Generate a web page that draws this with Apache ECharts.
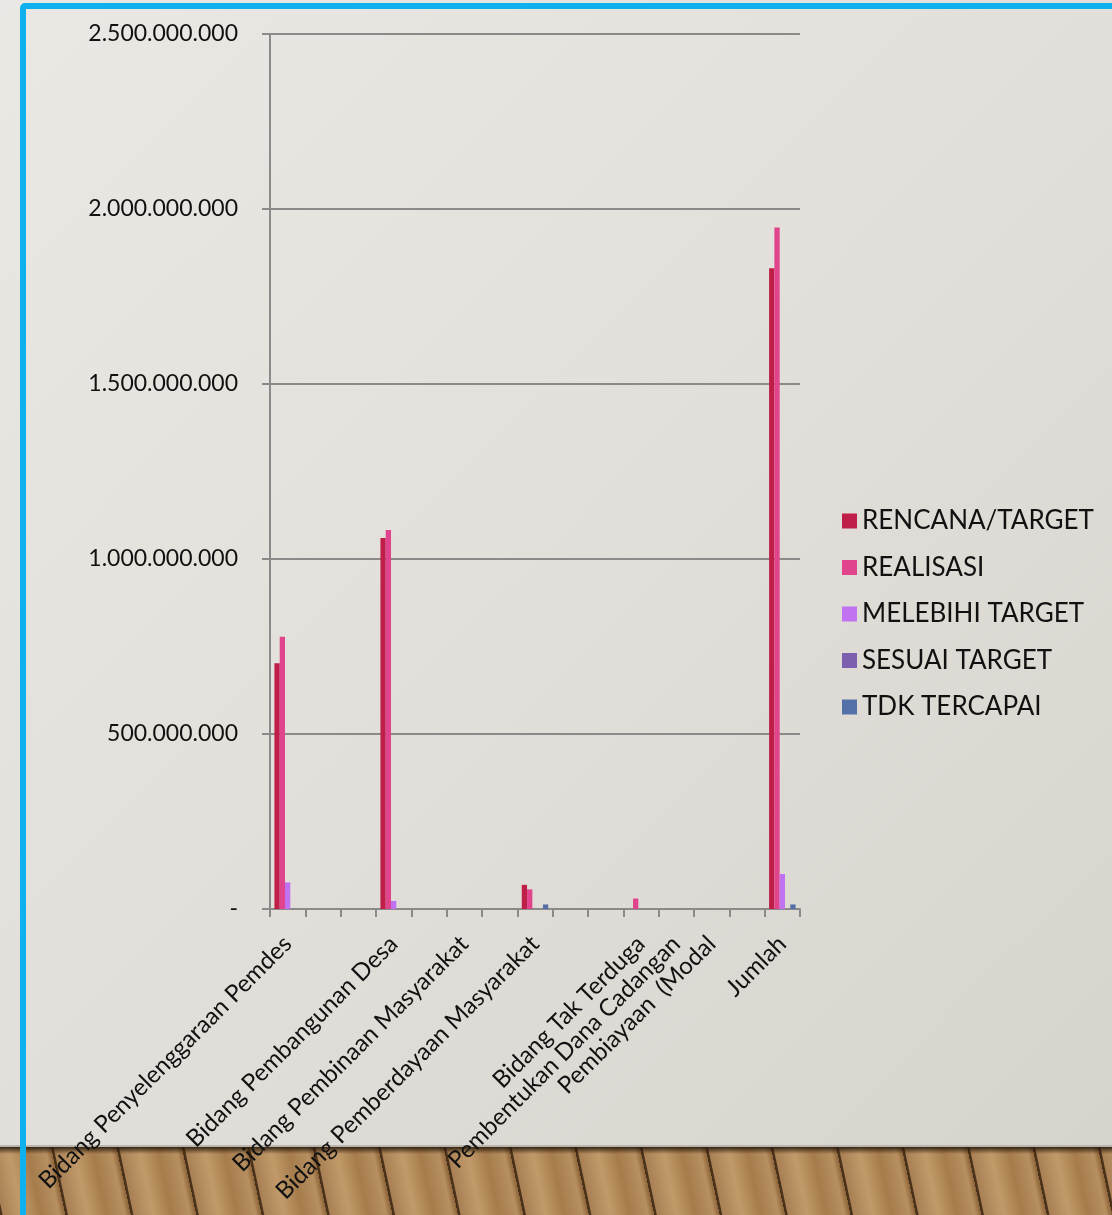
<!DOCTYPE html>
<html>
<head>
<meta charset="utf-8">
<script src="https://cdn.jsdelivr.net/npm/echarts@6/dist/echarts.min.js"></script>
<style>
  html, body { margin: 0; padding: 0; width: 1112px; height: 1215px; overflow: hidden; }
  body { background: linear-gradient(135deg, #EAE8E4 0%, #E2DFDA 50%, #D6D3CD 100%); position: relative; }
  #floor { position: absolute; left: 0; top: 1147px; width: 1112px; height: 68px;
    background:
      linear-gradient(to bottom, rgba(40,25,10,0.9) 0px, rgba(40,25,10,0.0) 7px),
      repeating-linear-gradient(78deg, #4a321a 0px, #4a321a 2px, #a98054 3px, #c29a6a 22px, #a67c4c 40px, #b78f60 58px, #8d6438 64px);
  }
  #floorline { position: absolute; left: 0; top: 1145px; width: 1112px; height: 2px; background: #b9b6b0; }
  #frame { position: absolute; left: 20px; top: 3px; width: 1200px; height: 1300px;
    border: 6px solid #0FB0EE; border-radius: 5px; box-sizing: border-box; }
  #chart { position: absolute; left: 0; top: 0; width: 1112px; height: 1215px; }
</style>
</head>
<body>
<div id="floorline"></div>
<div id="floor"></div>
<div id="frame"></div>
<div id="chart"></div>
<script>
const categories = [
  'Bidang Penyelenggaraan Pemdes', '', '', 'Bidang Pembangunan Desa', '',
  'Bidang Pembinaan Masyarakat', '', 'Bidang Pemberdayaan Masyarakat', '', '',
  'Bidang Tak Terduga', 'Pembentukan Dana Cadangan', 'Pembiayaan  (Modal', '', 'Jumlah'
];
const seriesNames = ['RENCANA/TARGET', 'REALISASI', 'MELEBIHI TARGET', 'SESUAI TARGET', 'TDK TERCAPAI'];
const rencana   = [702000000, null, null, 1060000000, null, null, null, 69000000, null, null, null, null, null, null, 1831000000];
const realisasi = [778000000, null, null, 1083000000, null, null, null, 56000000, null, null, 30000000, null, null, null, 1947000000];
const melebihi  = [76000000, null, null, 23000000, null, null, null, null, null, null, null, null, null, null, 100000000];
const sesuai    = [null, null, null, null, null, null, null, null, null, null, null, null, null, null, null];
const tdk       = [null, null, null, null, null, null, null, 13000000, null, null, null, null, null, null, 13000000];
const yTicks = [0, 500000000, 1000000000, 1500000000, 2000000000, 2500000000];

const colors = ['#BE1E48', '#E0448C', '#C072F0', '#7D5FB0', '#5470A8'];
const FONT = 'Lato, "Open Sans", sans-serif';

function fmt(v) {
  if (v === 0) return '-';
  return String(Math.round(v)).replace(/\B(?=(\d{3})+(?!\d))/g, '.');
}

const chart = echarts.init(document.getElementById('chart'), null, { renderer: 'canvas' });
const dataSets = [rencana, realisasi, melebihi, sesuai, tdk];
chart.setOption({
  backgroundColor: 'transparent',
  color: colors,
  animation: false,
  textStyle: { fontFamily: FONT },
  grid: { left: 270, right: 312, top: 34, bottom: 306, containLabel: false },
  legend: {
    orient: 'vertical',
    left: 837,
    top: 503,
    itemWidth: 15,
    itemHeight: 15,
    itemGap: 20.5,
    icon: 'rect',
    textStyle: { fontFamily: FONT, fontSize: 26, color: '#111', lineHeight: 26, padding: [0, 0, 0, 0] },
    data: seriesNames
  },
  xAxis: {
    type: 'category',
    data: categories,
    boundaryGap: true,
    axisLine: { show: true, lineStyle: { color: '#8a8a8a', width: 2 } },
    axisTick: { show: true, interval: 0, length: 8, lineStyle: { color: '#8a8a8a', width: 2 } },
    axisLabel: { interval: 0, rotate: 45, margin: 31, fontSize: 24, color: '#111', fontFamily: FONT }
  },
  yAxis: {
    type: 'value',
    min: 0,
    max: 2500000000,
    interval: 500000000,
    axisLine: { show: true, lineStyle: { color: '#8a8a8a', width: 2 } },
    axisTick: { show: true, length: 8, lineStyle: { color: '#8a8a8a', width: 2 } },
    splitLine: { show: true, lineStyle: { color: '#8a8a8a', width: 2 } },
    axisLabel: { margin: 32, fontSize: 23, color: '#111', fontFamily: FONT, formatter: fmt,
      customValues: yTicks }
  },
  series: seriesNames.map((n, i) => ({
    name: n,
    type: 'bar',
    data: dataSets[i],
    barGap: '0%',
    barCategoryGap: '25%'
  }))
});
</script>
</body>
</html>
